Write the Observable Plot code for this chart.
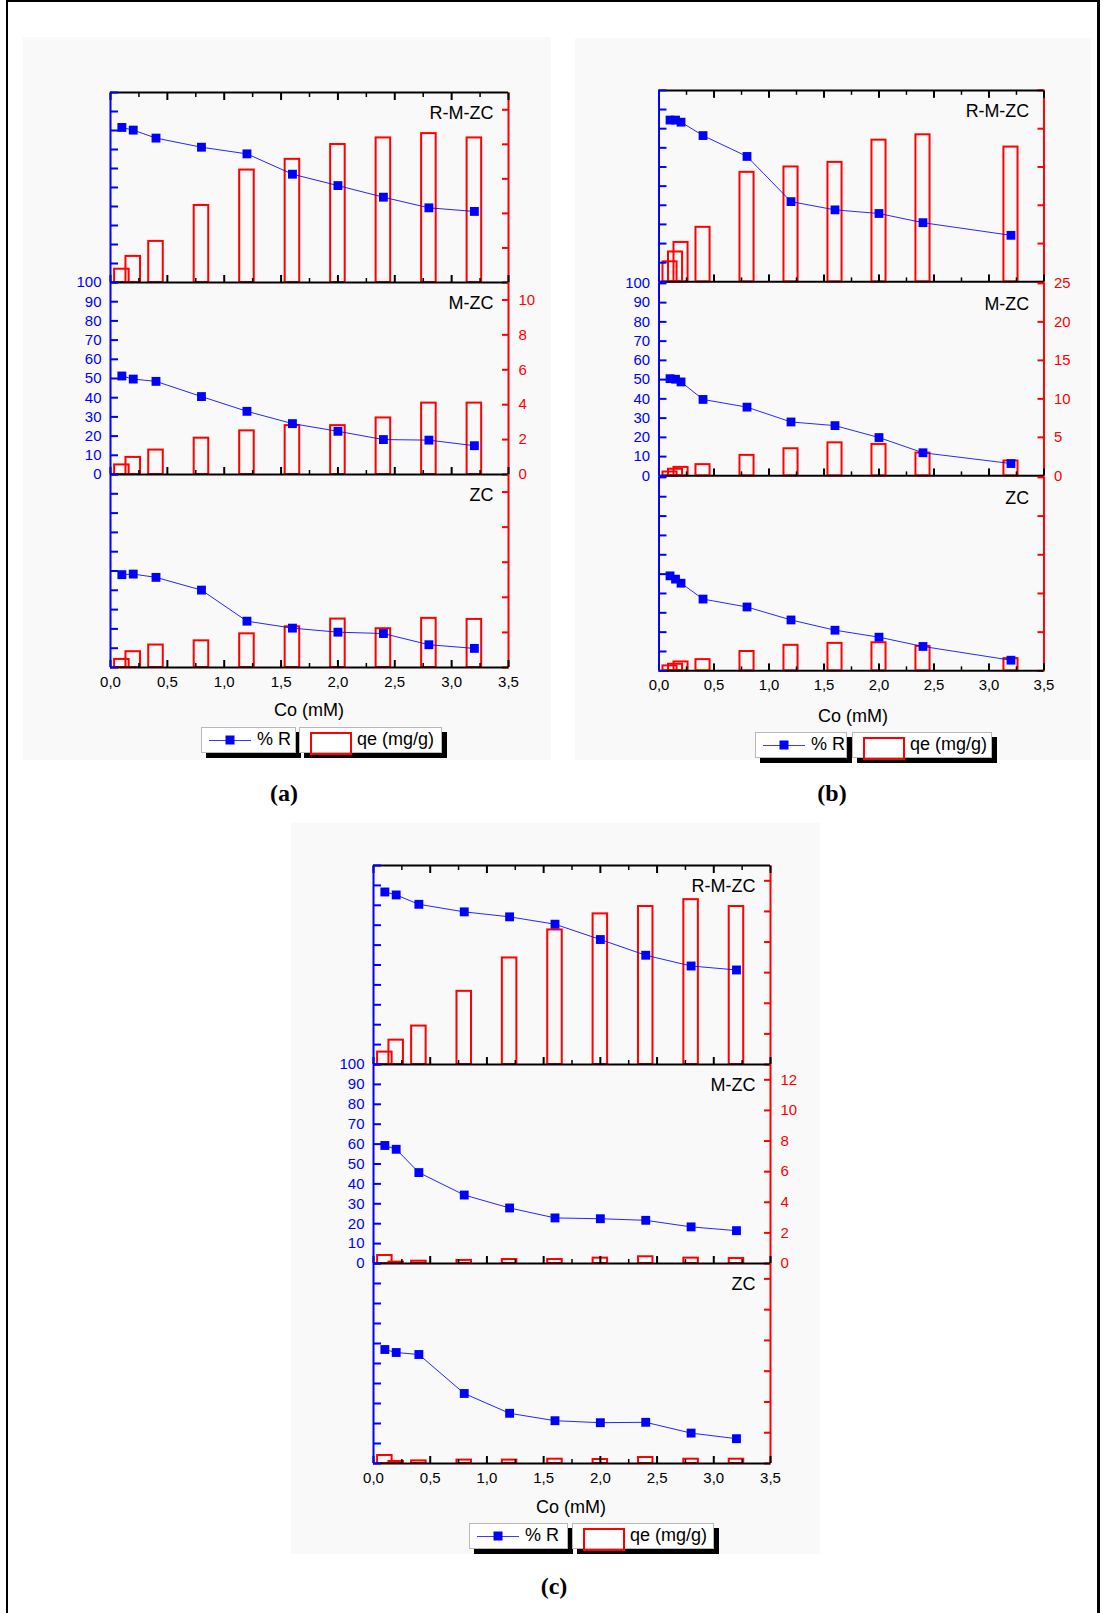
<!DOCTYPE html>
<html>
<head>
<meta charset="utf-8">
<script src="https://cdn.jsdelivr.net/npm/d3@7"></script>
<script src="https://cdn.jsdelivr.net/npm/@observablehq/plot@0.6"></script>
<style>
  body { margin: 0; background: #fff; font-family: "Liberation Sans", Arial, sans-serif; }
  #page { position: relative; width: 1103px; height: 1613px; overflow: hidden; background: #fff; }
  .frame { position: absolute; left: 6px; top: 0; width: 1094px; height: 1700px;
           border-left: 2px solid #000; border-top: 2px solid #000; border-right: 3px solid #000; box-sizing: border-box; }
  .bg { position: absolute; background: #f9f9f9; }
  .layer { position: absolute; }
  .layer svg { overflow: visible; }
  .xlabel { position: absolute; font-size: 18px; transform: translate(-50%, -50%); white-space: nowrap; color: #000; }
  .tag { position: absolute; font-family: "Liberation Serif", "Times New Roman", serif; font-weight: bold;
         font-size: 24px; transform: translateX(-50%); color: #000; }
  .leg { position: absolute; background: #fff; border: 1px solid #b8b8b8; box-shadow: 5px 5px 0 #000;
         box-sizing: border-box; font-size: 18px; white-space: nowrap; }
  .leg span { position: absolute; top: 50%; transform: translateY(-52%); }
  .leg .ln { position: absolute; height: 1px; background: #3a3aff; top: 50%; }
  .leg .sq { position: absolute; width: 9px; height: 9px; background: #0000ff; top: 50%; transform: translate(-50%, -50%); }
  .leg .box { position: absolute; border: 2px solid #ff0000; box-sizing: border-box; }
</style>
</head>
<body>
<div id="page"><div class="frame"></div></div>
<script>
// Initial concentration Co (mM) of each run
const coA = [0.1, 0.2, 0.4, 0.8, 1.2, 1.6, 2.0, 2.4, 2.8, 3.2];
const coB = [0.1, 0.15, 0.2, 0.4, 0.8, 1.2, 1.6, 2.0, 2.4, 3.2];
const coC = [0.1, 0.2, 0.4, 0.8, 1.2, 1.6, 2.0, 2.4, 2.8, 3.2];

// (a) removal % and uptake qe (mg/g)
const removalA_RMZC = [81.6, 80.2, 76.0, 71.2, 67.7, 57.0, 51.0, 44.9, 39.3, 37.4];
const qeA_RMZC      = [0.77, 1.51, 2.38, 4.46, 6.51, 7.13, 7.99, 8.37, 8.62, 8.37];
const removalA_MZC  = [51.3, 49.7, 48.5, 40.6, 32.9, 26.5, 22.5, 18.2, 17.9, 15.0];
const qeA_MZC       = [0.55, 0.98, 1.40, 2.08, 2.50, 2.80, 2.80, 3.24, 4.09, 4.09];
const removalA_ZC   = [48.1, 48.4, 46.7, 40.1, 24.0, 20.4, 18.3, 17.6, 11.8, 9.9];
const qeA_ZC        = [0.46, 0.90, 1.28, 1.52, 1.92, 2.32, 2.76, 2.21, 2.80, 2.74];

// (b)
const removalB_RMZC = [84.5, 84.5, 83.4, 76.4, 65.5, 41.9, 37.6, 35.7, 30.9, 24.3];
const qeB_RMZC      = [2.62, 3.90, 5.15, 7.12, 14.3, 15.0, 15.6, 18.5, 19.2, 17.6];
const removalB_MZC  = [50.5, 50.2, 48.8, 39.7, 35.7, 28.0, 26.1, 19.9, 12.0, 6.4];
const qeB_MZC       = [0.50, 0.86, 1.10, 1.46, 2.66, 3.52, 4.29, 4.08, 2.96, 1.93];
const removalB_ZC   = [49.1, 47.4, 45.3, 37.1, 33.0, 26.3, 21.0, 17.4, 12.6, 5.5];
const qeB_ZC        = [0.64, 0.85, 1.15, 1.45, 2.50, 3.30, 3.55, 3.63, 3.16, 1.58];

// (c)
const removalC_RMZC = [86.7, 85.2, 80.5, 76.7, 74.2, 70.5, 62.8, 54.9, 49.5, 47.5];
const qeC_RMZC      = [0.81, 1.59, 2.51, 4.78, 6.96, 8.79, 9.84, 10.32, 10.77, 10.32];
const removalC_MZC  = [59.3, 57.4, 45.7, 34.4, 27.9, 22.9, 22.5, 21.7, 18.4, 16.5];
const qeC_MZC       = [0.52, 0.09, 0.15, 0.20, 0.26, 0.26, 0.35, 0.44, 0.35, 0.33];
const removalC_ZC   = [57.0, 55.5, 54.5, 35.0, 25.1, 21.4, 20.4, 20.6, 15.2, 12.4];
const qeC_ZC        = [0.52, 0.13, 0.17, 0.22, 0.22, 0.28, 0.26, 0.39, 0.28, 0.28];

const panelNames = ["R-M-ZC", "M-ZC", "ZC"];
const xMajorTicks = [0, 0.5, 1.0, 1.5, 2.0, 2.5, 3.0, 3.5];
const xMinorTicks = [0.25, 0.75, 1.25, 1.75, 2.25, 2.75, 3.25];
const removalTicks = [0, 10, 20, 30, 40, 50, 60, 70, 80, 90, 100];
const qeTicksA = [0, 2, 4, 6, 8, 10];
const qeTicksB = [0, 5, 10, 15, 20, 25];
const qeTicksC = [0, 2, 4, 6, 8, 10, 12];
const qeMaxA = 11, qeMaxB = 25, qeMaxC = 13;
const xAxisTitle = "Co (mM)";
const legendLabels = ["% R", "qe (mg/g)"];
const figureTags = ["(a)", "(b)", "(c)"];

const BLUE = "#0000ff", RED = "#ff0000";
const FONT = "'Liberation Sans', Arial, sans-serif";
const BAR_HALF = 0.064;          // half bar width in Co units
const M = {left: 60, right: 60, top: 14, bottom: 44};
const fmtX = d => d.toFixed(1).replace(".", ",");
const page = document.getElementById("page");

function div(cls, css, text) {
  const el = document.createElement("div");
  el.className = cls;
  Object.assign(el.style, css);
  if (text != null) el.textContent = text;
  page.appendChild(el);
  return el;
}

function place(svg, x, y) {
  const wrap = div("layer", {left: (x - M.left) + "px", top: (y - M.top) + "px"});
  wrap.appendChild(svg);
}

// One stacked panel: hollow red qe bars on the right scale, blue % removal on the left scale
function drawPanel(g, co, removal, qe, pos, qMax, qTicks) {
  const rows = co.map((c, i) => ({co: c, r: removal[i], qe: qe[i]}));
  const common = {
    width: g.w + M.left + M.right, height: g.h + M.top + M.bottom,
    marginLeft: M.left, marginRight: M.right, marginTop: M.top, marginBottom: M.bottom,
    style: {background: "transparent", overflow: "visible", fontFamily: FONT},
    x: {domain: [0, 3.5], axis: null}
  };
  const isTop = pos === 0, isMid = pos === 1, isBottom = pos === 2;

  const bars = Plot.plot({
    ...common,
    y: {domain: [0, qMax], axis: null},
    marks: [
      Plot.rect(rows, {x1: d => d.co - BAR_HALF, x2: d => d.co + BAR_HALF, y1: 0, y2: "qe",
                       fill: "none", stroke: RED, strokeWidth: 2}),
      Plot.ruleX([3.5], {stroke: RED, strokeWidth: 2}),
      Plot.axisY({anchor: "right", ticks: qTicks, tickSize: -7, stroke: RED, strokeWidth: 2, fill: "none", label: null}),
      isMid ? Plot.axisY({anchor: "right", ticks: qTicks, tickSize: 0, tickPadding: 10, fill: RED,
                          fontSize: 15, label: null}) : null
    ]
  });
  place(bars, g.x, g.y);

  const pct = Plot.plot({
    ...common,
    y: {domain: [0, 100], axis: null},
    marks: [
      Plot.ruleY([0], {stroke: "#000", strokeWidth: 2}),
      isTop ? Plot.ruleY([100], {stroke: "#000", strokeWidth: 2}) : null,
      Plot.axisX({anchor: "bottom", ticks: xMajorTicks, tickSize: -7, stroke: "#000", strokeWidth: 2, fill: "none", label: null}),
      Plot.axisX({anchor: "bottom", ticks: xMinorTicks, tickSize: -4, stroke: "#000", strokeWidth: 1.5, fill: "none", label: null}),
      isTop ? Plot.axisX({anchor: "top", ticks: xMajorTicks, tickSize: -7, stroke: "#000", strokeWidth: 2, fill: "none", label: null}) : null,
      isTop ? Plot.axisX({anchor: "top", ticks: xMinorTicks, tickSize: -4, stroke: "#000", strokeWidth: 1.5, fill: "none", label: null}) : null,
      isBottom ? Plot.axisX({anchor: "bottom", ticks: xMajorTicks, tickSize: 0, tickPadding: 9, tickFormat: fmtX,
                             fill: "#000", fontSize: 15, label: null}) : null,
      Plot.ruleX([0], {stroke: BLUE, strokeWidth: 2}),
      Plot.axisY({anchor: "left", ticks: removalTicks, tickSize: -8, stroke: BLUE, strokeWidth: 2, fill: "none", label: null}),
      isMid ? Plot.axisY({anchor: "left", ticks: removalTicks, tickSize: 0, tickPadding: 9, fill: BLUE,
                          fontSize: 15, label: null}) : null,
      Plot.text([panelNames[pos]], {text: d => d, frameAnchor: "top-right", dx: -15, dy: 14, fontSize: 18, fill: "#000"}),
      Plot.line(rows, {x: "co", y: "r", stroke: BLUE, strokeWidth: 1, strokeOpacity: 0.85}),
      Plot.dot(rows, {x: "co", y: "r", symbol: "square", r: 5, fill: BLUE, stroke: "none"})
    ]
  });
  place(pct, g.x, g.y);
}

function drawLegend(l1, w1, l2, w2, y, h) {
  const b1 = div("leg", {left: l1 + "px", top: y + "px", width: w1 + "px", height: h + "px"});
  const ln = document.createElement("div"); ln.className = "ln";
  Object.assign(ln.style, {left: "7px", width: "42px"}); b1.appendChild(ln);
  const sq = document.createElement("div"); sq.className = "sq";
  Object.assign(sq.style, {left: "28px"}); b1.appendChild(sq);
  const t1 = document.createElement("span"); t1.textContent = legendLabels[0];
  t1.style.left = "55px"; b1.appendChild(t1);

  const b2 = div("leg", {left: l2 + "px", top: y + "px", width: w2 + "px", height: h + "px"});
  const bx = document.createElement("div"); bx.className = "box";
  Object.assign(bx.style, {left: "10px", top: "4px", width: "42px", height: (h - 3) + "px"}); b2.appendChild(bx);
  const t2 = document.createElement("span"); t2.textContent = legendLabels[1];
  t2.style.left = "57px"; b2.appendChild(t2);
}

function drawFigure(f) {
  div("bg", {left: f.bg[0] + "px", top: f.bg[1] + "px", width: (f.bg[2] - f.bg[0]) + "px", height: (f.bg[3] - f.bg[1]) + "px"});
  for (let p = 0; p < 3; p++) {
    const g = {x: f.x0, y: f.ys[p], w: f.x1 - f.x0, h: f.ys[p + 1] - f.ys[p]};
    drawPanel(g, f.co, f.removal[p], f.qe[p], p, f.qMax, f.qTicks);
  }
  div("xlabel", {left: f.title[0] + "px", top: f.title[1] + "px"}, xAxisTitle);
  drawLegend(...f.legend);
  div("tag", {left: f.tag[0] + "px", top: f.tag[1] + "px"}, f.tagText);
}

drawFigure({
  bg: [23, 37, 551, 760], x0: 110, x1: 508, ys: [92, 282, 474, 667],
  co: coA, removal: [removalA_RMZC, removalA_MZC, removalA_ZC], qe: [qeA_RMZC, qeA_MZC, qeA_ZC],
  qMax: qeMaxA, qTicks: qeTicksA,
  title: [309, 710], legend: [201, 95, 299, 143, 727, 26], tag: [284, 780], tagText: figureTags[0]
});
drawFigure({
  bg: [575, 38, 1091, 760], x0: 659, x1: 1047, ys: [90, 283, 477, 672],
  co: coB, removal: [removalB_RMZC, removalB_MZC, removalB_ZC], qe: [qeB_RMZC, qeB_MZC, qeB_ZC],
  qMax: qeMaxB, qTicks: qeTicksB,
  title: [853, 716], legend: [755, 92, 852, 140, 732, 26], tag: [832, 780], tagText: figureTags[1]
});
drawFigure({
  bg: [291, 823, 820, 1554], x0: 373, x1: 770, ys: [865, 1064, 1263, 1463],
  co: coC, removal: [removalC_RMZC, removalC_MZC, removalC_ZC], qe: [qeC_RMZC, qeC_MZC, qeC_ZC],
  qMax: qeMaxC, qTicks: qeTicksC,
  title: [571, 1507], legend: [469, 99, 572, 142, 1523, 26], tag: [554, 1573], tagText: figureTags[2]
});
</script>
</body>
</html>
